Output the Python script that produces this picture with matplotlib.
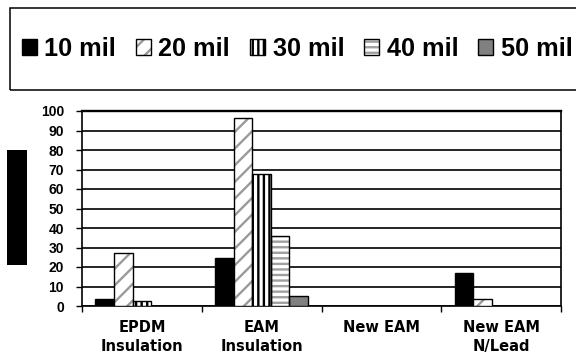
import matplotlib
matplotlib.use("Agg")
import matplotlib.pyplot as plt
import numpy as np
from matplotlib.patches import Rectangle, Patch
from matplotlib.legend_handler import HandlerTuple

categories = ["EPDM\nInsulation", "EAM\nInsulation", "New EAM", "New EAM\nN/Lead"]
series_names = ["10 mil", "20 mil", "30 mil", "40 mil", "50 mil"]
mil10 = [3.4, 24.8, 0, 16.7]
mil20 = [27, 96.2, 0, 3.4]
mil30 = [2.4, 67.5, 0, 0]
mil40 = [0, 36, 0, 0]
mil50 = [0, 5.3, 0, 0]
series_values = [mil10, mil20, mil30, mil40, mil50]
y_ticks = [0, 10, 20, 30, 40, 50, 60, 70, 80, 90, 100]

styles = [
    dict(face="black", hatch=None, hcolor="black"),
    dict(face="white", hatch="//", hcolor="#9a9a9a"),
    dict(face="white", hatch="|||", hcolor="black"),
    dict(face="white", hatch="---", hcolor="#a0a0a0"),
    dict(face="#808080", hatch=None, hcolor="#808080"),
]

plt.rcParams["hatch.linewidth"] = 1.7

W, H = 576, 358
fig = plt.figure(figsize=(W / 100, H / 100), dpi=100)
ax = fig.add_axes([82 / W, 1 - 306 / H, (561 - 82) / W, (306 - 111) / H])

x = np.arange(len(categories))
bw = 0.155
n = len(series_values)
legend_handles = []
for i, (vals, st) in enumerate(zip(series_values, styles)):
    pos = x + (i - (n - 1) / 2) * bw
    if st["hatch"]:
        ax.bar(pos, vals, bw, facecolor=st["face"], edgecolor=st["hcolor"],
               hatch=st["hatch"], linewidth=0, zorder=3)
        ax.bar(pos, vals, bw, fill=False, edgecolor="black", linewidth=1.0, zorder=4)
        hp = Patch(facecolor=st["face"], edgecolor=st["hcolor"], hatch=st["hatch"], linewidth=0)
        op = Patch(fill=False, edgecolor="black", linewidth=1.0)
        legend_handles.append((hp, op))
    else:
        ax.bar(pos, vals, bw, facecolor=st["face"], edgecolor="black", linewidth=1.0, zorder=3)
        legend_handles.append(Patch(facecolor=st["face"], edgecolor="black", linewidth=1.0))

ax.set_xlim(-0.5, len(categories) - 0.5)
ax.set_ylim(0, 100)
ax.set_yticks(y_ticks)
ax.set_yticklabels([str(v) for v in y_ticks], fontfamily="Liberation Sans",
                   fontweight="bold", fontsize=10)
ax.tick_params(axis="y", length=4, width=1.0, pad=9, direction="out", color="black")
ax.yaxis.grid(True, color="black", linewidth=1.2, zorder=0)
ax.set_axisbelow(True)

ax.set_xticks(x)
ax.set_xticklabels(categories, fontfamily="DejaVu Sans", fontweight="bold",
                   fontsize=10.5, linespacing=1.35)
ax.tick_params(axis="x", length=0, pad=10)
ax.set_xticks(np.arange(-0.5, len(categories)), minor=True)
ax.tick_params(axis="x", which="minor", length=4, width=1.0, direction="out")

for s in ax.spines.values():
    s.set_color("black")
    s.set_linewidth(1.2)
ax.spines["top"].set_linewidth(1.7)

# black block on the left
fig.patches.append(Rectangle((7 / W, 1 - 265 / H), 20 / W, 115 / H,
                             transform=fig.transFigure, facecolor="black",
                             edgecolor="none"))
# legend frame (extends beyond right edge)
fig.patches.append(Rectangle((10 / W, 1 - 90 / H), 600 / W, 82 / H,
                             transform=fig.transFigure, facecolor="none",
                             edgecolor="black", linewidth=1.1))

leg = fig.legend(legend_handles, series_names, loc="center left",
                 bbox_to_anchor=(22 / W, 1 - 49 / H), ncol=5, frameon=False,
                 prop=dict(family="Liberation Sans", weight="bold", size=18.2),
                 handlelength=0.58, handleheight=0.58, handletextpad=0.3,
                 columnspacing=0.8, borderpad=0, borderaxespad=0,
                 handler_map={tuple: HandlerTuple(ndivide=1, pad=0)})

fig.savefig("out.png", dpi=100)
